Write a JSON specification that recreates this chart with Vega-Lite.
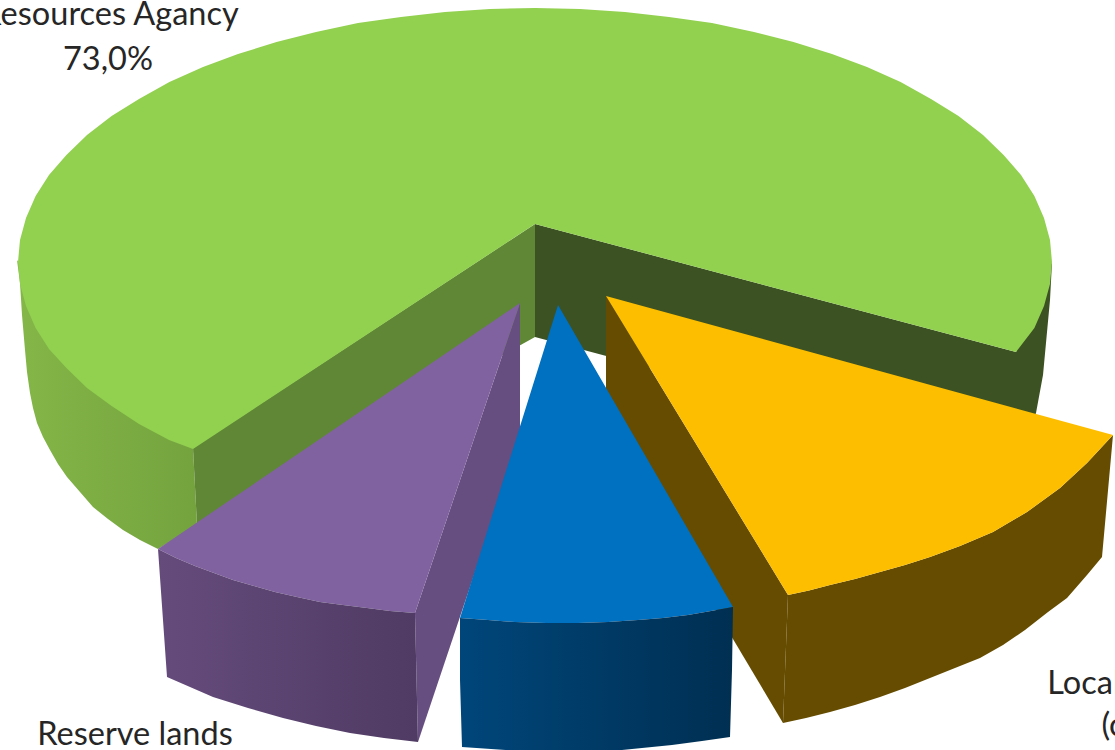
{
"$schema":"https://vega.github.io/schema/vega-lite/v6.json",
"width":1115,"height":750,"padding":0,"autosize":{"type":"none"},"background":"#ffffff",
"config":{"view":{"stroke":null}},
"projection":{"type":"identity","scale":1,"translate":[0,0],"fit":false},
"datasets":{
"faces":[
{"type":"Feature","properties":{"part":"waterOuter"},"geometry":{"type":"Polygon","coordinates":[[[17,260],[20,283],[22,315],[25,350],[27,372],[30,393],[33,408],[37,423],[43,437],[50,450],[58,464],[67,477],[80,492],[93,507],[108,519],[123,530],[140,540],[158,549],[197,525],[193,448],[100,380],[17,260]]]}},
{"type":"Feature","properties":{"part":"waterCutBack"},"geometry":{"type":"Polygon","coordinates":[[[535,224],[1016,352],[1052,262],[1050,300],[1043,375],[1036,413],[1016,465],[535,337],[535,224]]]}},
{"type":"Feature","properties":{"part":"waterCutFront"},"geometry":{"type":"Polygon","coordinates":[[[535,224],[193,448],[197,525],[535,337],[535,224]]]}},
{"type":"Feature","properties":{"part":"waterTop"},"geometry":{"type":"Polygon","coordinates":[[[535,224],[193,449],[169,440],[139,424],[111.6,406],[87,388],[66.4,368],[49,349],[35.6,328],[26,306],[20,284],[18,262],[20,240],[26,218],[35.6,196],[49,175],[66.4,155],[87,135],[111.6,116],[139,99],[169.4,82],[203,67],[238,54],[276.5,42],[316,32],[358,23],[401,17],[445,12],[490,9],[535,8],[580,9],[625,12],[669,17],[712,23],[754,32],[793.5,42],[832,54],[867,67],[900.6,82],[931,99],[958.5,116],[983,135],[1003.6,155],[1021,175],[1034.4,196],[1044,218],[1050,240],[1052,262],[1050,284],[1044,306],[1034.4,328],[1016,352],[535,224]]]}},
{"type":"Feature","properties":{"part":"localCut"},"geometry":{"type":"Polygon","coordinates":[[[606,296],[788,595],[783,723],[606,426],[606,296]]]}},
{"type":"Feature","properties":{"part":"localOuter"},"geometry":{"type":"Polygon","coordinates":[[[788,595],[809,590.5],[830,585],[855,579],[880,572],[905,565],[930,557],[960,546],[993,532],[1027,512],[1060,488],[1087,463],[1113,435],[1102,557],[1087,575],[1067,598],[1048,612],[1025,630],[1003,645],[980,658],[955,668],[930,678],[905,688],[880,697],[855,705],[830,712],[806,718],[783,723],[788,595]]]}},
{"type":"Feature","properties":{"part":"localTop"},"geometry":{"type":"Polygon","coordinates":[[[606,296],[1113,435],[1087,463],[1060,488],[1027,512],[993,532],[960,546],[930,557],[905,565],[880,572],[855,579],[830,585],[809,590.5],[788,595],[606,296]]]}},
{"type":"Feature","properties":{"part":"reserveCut"},"geometry":{"type":"Polygon","coordinates":[[[520,303],[415,613],[418,742],[520,438],[520,303]]]}},
{"type":"Feature","properties":{"part":"reserveTop"},"geometry":{"type":"Polygon","coordinates":[[[520,303],[158,549],[176,558],[195,566],[214,573],[233,580],[254,586],[275,592],[297,597],[320,602],[343,605],[367,608],[390,611],[415,613],[520,303]]]}},
{"type":"Feature","properties":{"part":"otherTop"},"geometry":{"type":"Polygon","coordinates":[[[558,305],[460,618],[488,620],[515,622],[546,623],[578,623],[608,622],[638,620],[663,618],[688,615],[711,611],[733,607],[558,305]]]}},
{"type":"Feature","properties":{"part":"reserveOuter"},"geometry":{"type":"Polygon","coordinates":[[[158,549],[176,558],[195,566],[214,573],[233,580],[254,586],[275,592],[297,597],[320,602],[343,605],[367,608],[390,611],[415,613],[418,742],[384,738],[350,733],[316,726],[283,718],[248,708],[213,697],[190,687],[167,677],[158,549]]]}},
{"type":"Feature","properties":{"part":"otherOuter"},"geometry":{"type":"Polygon","coordinates":[[[460,618],[488,620],[515,622],[546,623],[578,623],[608,622],[638,620],[663,618],[688,615],[711,611],[733,607],[732,670],[730,737],[702,741],[672,745],[622,750],[580,752],[520,751],[462,747],[460,680],[460,618]]]}}
],
"labels":[
{"label":"Resources Agancy","px":110,"py":25},
{"label":"73,0%","px":108,"py":70},
{"label":"Reserve lands","px":135,"py":745},
{"label":"Local","px":1084,"py":694},
{"label":"(c","px":1113,"py":736}
]
},
"layer":[
{"data":{"name":"faces"},"transform":[{"filter":"datum.properties.part==='waterOuter'"}],
 "mark":{"type":"geoshape","stroke":null,"fill":{"gradient":"linear","x1":0,"x2":1,"y1":0,"y2":0,"stops":[{"offset":0,"color":"#84B648"},{"offset":1,"color":"#74A33E"}]}}},
{"data":{"name":"faces"},"transform":[{"filter":"indexof(['waterCutBack','waterCutFront','waterTop','localCut','localOuter','localTop','reserveCut','reserveTop','otherTop'],datum.properties.part)>=0"}],
 "mark":{"type":"geoshape","stroke":null},
 "encoding":{"color":{"field":"properties.part","type":"nominal","legend":null,"scale":{"domain":["waterCutBack","waterCutFront","waterTop","localCut","localOuter","localTop","reserveCut","reserveTop","otherTop"],"range":["#3C5223","#5F8736","#92D050","#654C00","#654C00","#FDBE00","#664E80","#8062A0","#0070C0"]}}}},
{"data":{"name":"faces"},"transform":[{"filter":"datum.properties.part==='reserveOuter'"}],
 "mark":{"type":"geoshape","stroke":null,"fill":{"gradient":"linear","x1":0,"x2":1,"y1":0,"y2":0,"stops":[{"offset":0,"color":"#654B7C"},{"offset":1,"color":"#4F3B63"}]}}},
{"data":{"name":"faces"},"transform":[{"filter":"datum.properties.part==='otherOuter'"}],
 "mark":{"type":"geoshape","stroke":null,"fill":{"gradient":"linear","x1":0,"x2":1,"y1":0,"y2":0,"stops":[{"offset":0,"color":"#00467A"},{"offset":1,"color":"#002F52"}]}}},
{"data":{"name":"labels"},
 "mark":{"type":"text","font":"Lato","fontSize":32.5,"color":"#262626","baseline":"alphabetic","align":"center"},
 "encoding":{"longitude":{"field":"px","type":"quantitative"},"latitude":{"field":"py","type":"quantitative"},"text":{"field":"label","type":"nominal"}}}
]
}
